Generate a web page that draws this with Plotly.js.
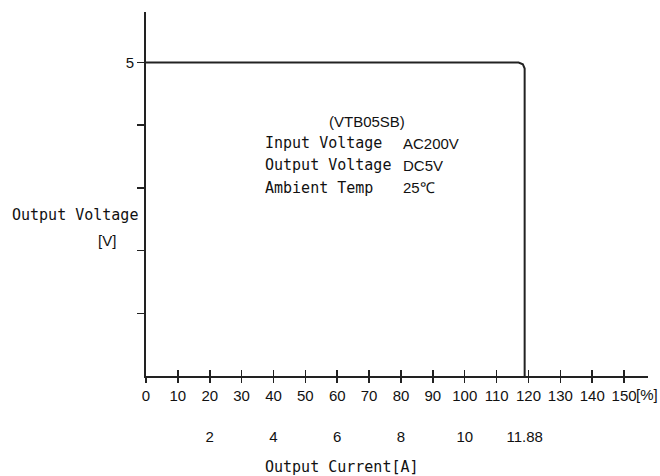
<!DOCTYPE html>
<html><head><meta charset="utf-8">
<script src="https://cdn.plot.ly/plotly-3.0.1.min.js"></script>
<style>body{margin:0;background:#fff}#c{width:660px;height:476px}</style>
</head><body><div id="c"></div>
<script>
// Output characteristic: load [%] vs output voltage [V]
const loadPct = [0, 116.9, 118.23, 118.8, 118.8];
const voltage = [5, 5, 4.972, 4.904, 0];
const pctTicks = [0,10,20,30,40,50,60,70,80,90,100,110,120,130,140,150];
const currentTickPos = [20,40,60,80,100,118.8];
const currentTickText = ['2','4','6','8','10','11.88'];
const voltTicks = [1,2,3,4,5];
const voltTickText = ['','','','','5'];
const infoLabels = ['Input Voltage','Output Voltage','Ambient Temp'];
const infoValues = ['AC200V','DC5V','25℃'];
const model = '(VTB05SB)';

const numFont = {family:'Liberation Sans, Arial', size:15, color:'#111'};
const monoFont = {family:'DejaVu Sans Mono, Liberation Mono, monospace', size:15, color:'#111'};
const ink = '#222';

const anns = [];
infoLabels.forEach((t,i)=>{
  anns.push({xref:'paper', yref:'paper', x:(263-146)/502, y:(376-(143+i*22.5))/364,
    xanchor:'left', yanchor:'middle', text:t, showarrow:false, font:monoFont});
  anns.push({xref:'paper', yref:'paper', x:(401-146)/502, y:(376-(143+i*22.5))/364,
    xanchor:'left', yanchor:'middle', text:infoValues[i], showarrow:false, font:numFont});
});
anns.push({xref:'paper', yref:'paper', x:(367-146)/502, y:(376-121)/364, xanchor:'center', yanchor:'middle',
  text:model, showarrow:false, font:numFont});
anns.push({xref:'paper', yref:'paper', x:(75-146)/502, y:(376-215)/364, xanchor:'center', yanchor:'middle',
  text:'Output Voltage', showarrow:false, font:monoFont});
anns.push({xref:'paper', yref:'paper', x:(107-146)/502, y:(376-240)/364, xanchor:'center', yanchor:'middle',
  text:'[V]', showarrow:false, font:numFont});
anns.push({xref:'x', yref:'paper', x:150, y:(376-394)/364, xanchor:'left', yanchor:'middle', xshift:10,
  text:'[%]', showarrow:false, font:numFont});
anns.push({xref:'paper', yref:'paper', x:(342-146)/502, y:(376-467)/364, xanchor:'center', yanchor:'middle',
  text:'Output Current[A]', showarrow:false, font:monoFont});

const data = [{x:loadPct, y:voltage, type:'scatter', mode:'lines',
  line:{color:ink, width:2}, hoverinfo:'skip', showlegend:false}];

const layout = {
  width:660, height:476,
  margin:{l:146, r:12, t:12, b:100},
  paper_bgcolor:'#fff', plot_bgcolor:'#fff',
  showlegend:false,
  xaxis:{range:[0,157.5], showgrid:false, zeroline:false, showline:true, linecolor:ink, linewidth:2,
    tickvals:pctTicks, ticktext:pctTicks.map(String), ticks:'outside', ticklen:5, tickwidth:1.5, tickcolor:ink,
    tickfont:numFont, fixedrange:true},
  xaxis2:{overlaying:'x', matches:'x', range:[0,157.5], side:'bottom', showgrid:false, zeroline:false, showline:false,
    tickvals:pctTicks, ticks:'inside', ticklen:6, tickwidth:1.5, tickcolor:ink, showticklabels:false},
  xaxis3:{overlaying:'x', range:[0,157.5], side:'bottom', showgrid:false, zeroline:false, showline:false,
    tickvals:currentTickPos, ticktext:currentTickText, ticks:'', ticklabelstandoff:50, tickfont:numFont},
  yaxis:{range:[0,5.805], showgrid:false, zeroline:false, showline:true, linecolor:ink, linewidth:2,
    tickvals:voltTicks, ticktext:voltTickText, ticks:'outside', ticklen:7, tickwidth:1.5, tickcolor:ink,
    tickfont:numFont, fixedrange:true},
  annotations:anns
};
data.push({x:[0], y:[0], xaxis:'x2', type:'scatter', mode:'markers', marker:{opacity:0}, hoverinfo:'skip', showlegend:false});
data.push({x:[0], y:[0], xaxis:'x3', type:'scatter', mode:'markers', marker:{opacity:0}, hoverinfo:'skip', showlegend:false});
Plotly.newPlot('c', data, layout, {displayModeBar:false, staticPlot:true});
</script></body></html>
